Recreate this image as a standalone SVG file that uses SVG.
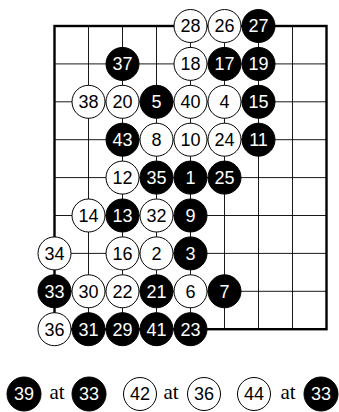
<svg xmlns="http://www.w3.org/2000/svg" width="339" height="412" viewBox="0 0 339 412">
<style>
.grid{stroke:#000;stroke-width:0.9;fill:none}
.edge{stroke:#000;stroke-width:2.4;fill:none}
.w{fill:#fff;stroke:#000;stroke-width:1}
.b{fill:#000;stroke:#000;stroke-width:1}
.n{font-family:"Liberation Sans",Arial,sans-serif;font-size:18px;text-anchor:middle}
.nw{fill:#000}
.nb{fill:#fff}
.at{font-family:"Liberation Serif","Times New Roman",serif;font-size:21px;text-anchor:middle;fill:#000}
</style>
<rect width="339" height="412" fill="#fff"/>
<g id="connectors">
<path class="grid" d="M88.5 26V329.2M122.5 26V329.2M156.5 26V329.2M190.5 26V329.2M224.5 26V329.2M258.5 26V329.2M292.5 26V329.2M54.5 63.9H326.5M54.5 101.8H326.5M54.5 139.7H326.5M54.5 177.6H326.5M54.5 215.5H326.5M54.5 253.4H326.5M54.5 291.3H326.5"/>
<rect class="edge" x="54.5" y="26" width="272" height="303.2"/>
</g>
<g id="s28"><circle class="w" cx="190.5" cy="26" r="16.5"/><text class="n nw" x="190.5" y="32.4">28</text></g>
<g id="s26"><circle class="w" cx="224.5" cy="26" r="16.5"/><text class="n nw" x="224.5" y="32.4">26</text></g>
<g id="s27"><circle class="b" cx="258.5" cy="26" r="16.5"/><text class="n nb" x="258.5" y="32.4">27</text></g>
<g id="s37"><circle class="b" cx="122.5" cy="63.9" r="16.5"/><text class="n nb" x="122.5" y="70.3">37</text></g>
<g id="s18"><circle class="w" cx="190.5" cy="63.9" r="16.5"/><text class="n nw" x="190.5" y="70.3">18</text></g>
<g id="s17"><circle class="b" cx="224.5" cy="63.9" r="16.5"/><text class="n nb" x="224.5" y="70.3">17</text></g>
<g id="s19"><circle class="b" cx="258.5" cy="63.9" r="16.5"/><text class="n nb" x="258.5" y="70.3">19</text></g>
<g id="s38"><circle class="w" cx="88.5" cy="101.8" r="16.5"/><text class="n nw" x="88.5" y="108.2">38</text></g>
<g id="s20"><circle class="w" cx="122.5" cy="101.8" r="16.5"/><text class="n nw" x="122.5" y="108.2">20</text></g>
<g id="s5"><circle class="b" cx="156.5" cy="101.8" r="16.5"/><text class="n nb" x="156.5" y="108.2">5</text></g>
<g id="s40"><circle class="w" cx="190.5" cy="101.8" r="16.5"/><text class="n nw" x="190.5" y="108.2">40</text></g>
<g id="s4"><circle class="w" cx="224.5" cy="101.8" r="16.5"/><text class="n nw" x="224.5" y="108.2">4</text></g>
<g id="s15"><circle class="b" cx="258.5" cy="101.8" r="16.5"/><text class="n nb" x="258.5" y="108.2">15</text></g>
<g id="s43"><circle class="b" cx="122.5" cy="139.7" r="16.5"/><text class="n nb" x="122.5" y="146.1">43</text></g>
<g id="s8"><circle class="w" cx="156.5" cy="139.7" r="16.5"/><text class="n nw" x="156.5" y="146.1">8</text></g>
<g id="s10"><circle class="w" cx="190.5" cy="139.7" r="16.5"/><text class="n nw" x="190.5" y="146.1">10</text></g>
<g id="s24"><circle class="w" cx="224.5" cy="139.7" r="16.5"/><text class="n nw" x="224.5" y="146.1">24</text></g>
<g id="s11"><circle class="b" cx="258.5" cy="139.7" r="16.5"/><text class="n nb" x="258.5" y="146.1">11</text></g>
<g id="s12"><circle class="w" cx="122.5" cy="177.6" r="16.5"/><text class="n nw" x="122.5" y="184">12</text></g>
<g id="s35"><circle class="b" cx="156.5" cy="177.6" r="16.5"/><text class="n nb" x="156.5" y="184">35</text></g>
<g id="s1"><circle class="b" cx="190.5" cy="177.6" r="16.5"/><text class="n nb" x="190.5" y="184">1</text></g>
<g id="s25"><circle class="b" cx="224.5" cy="177.6" r="16.5"/><text class="n nb" x="224.5" y="184">25</text></g>
<g id="s14"><circle class="w" cx="88.5" cy="215.5" r="16.5"/><text class="n nw" x="88.5" y="221.9">14</text></g>
<g id="s13"><circle class="b" cx="122.5" cy="215.5" r="16.5"/><text class="n nb" x="122.5" y="221.9">13</text></g>
<g id="s32"><circle class="w" cx="156.5" cy="215.5" r="16.5"/><text class="n nw" x="156.5" y="221.9">32</text></g>
<g id="s9"><circle class="b" cx="190.5" cy="215.5" r="16.5"/><text class="n nb" x="190.5" y="221.9">9</text></g>
<g id="s34"><circle class="w" cx="54.5" cy="253.4" r="16.5"/><text class="n nw" x="54.5" y="259.8">34</text></g>
<g id="s16"><circle class="w" cx="122.5" cy="253.4" r="16.5"/><text class="n nw" x="122.5" y="259.8">16</text></g>
<g id="s2"><circle class="w" cx="156.5" cy="253.4" r="16.5"/><text class="n nw" x="156.5" y="259.8">2</text></g>
<g id="s3"><circle class="b" cx="190.5" cy="253.4" r="16.5"/><text class="n nb" x="190.5" y="259.8">3</text></g>
<g id="s33"><circle class="b" cx="54.5" cy="291.3" r="16.5"/><text class="n nb" x="54.5" y="297.7">33</text></g>
<g id="s30"><circle class="w" cx="88.5" cy="291.3" r="16.5"/><text class="n nw" x="88.5" y="297.7">30</text></g>
<g id="s22"><circle class="w" cx="122.5" cy="291.3" r="16.5"/><text class="n nw" x="122.5" y="297.7">22</text></g>
<g id="s21"><circle class="b" cx="156.5" cy="291.3" r="16.5"/><text class="n nb" x="156.5" y="297.7">21</text></g>
<g id="s6"><circle class="w" cx="190.5" cy="291.3" r="16.5"/><text class="n nw" x="190.5" y="297.7">6</text></g>
<g id="s7"><circle class="b" cx="224.5" cy="291.3" r="16.5"/><text class="n nb" x="224.5" y="297.7">7</text></g>
<g id="s36"><circle class="w" cx="54.5" cy="329.2" r="16.5"/><text class="n nw" x="54.5" y="335.6">36</text></g>
<g id="s31"><circle class="b" cx="88.5" cy="329.2" r="16.5"/><text class="n nb" x="88.5" y="335.6">31</text></g>
<g id="s29"><circle class="b" cx="122.5" cy="329.2" r="16.5"/><text class="n nb" x="122.5" y="335.6">29</text></g>
<g id="s41"><circle class="b" cx="156.5" cy="329.2" r="16.5"/><text class="n nb" x="156.5" y="335.6">41</text></g>
<g id="s23"><circle class="b" cx="190.5" cy="329.2" r="16.5"/><text class="n nb" x="190.5" y="335.6">23</text></g>
<g id="legend">
<g id="l39"><circle class="b" cx="24" cy="394" r="17"/><text class="n nb" x="24" y="400.4">39</text></g>
<text class="at" x="57" y="399">at</text>
<g id="l33a"><circle class="b" cx="89" cy="394" r="17"/><text class="n nb" x="89" y="400.4">33</text></g>
<g id="l42"><circle class="w" cx="140" cy="394" r="16.5"/><text class="n nw" x="140" y="400.4">42</text></g>
<text class="at" x="171" y="399">at</text>
<g id="l36"><circle class="w" cx="204" cy="394" r="16.5"/><text class="n nw" x="204" y="400.4">36</text></g>
<g id="l44"><circle class="w" cx="254" cy="394" r="16.5"/><text class="n nw" x="254" y="400.4">44</text></g>
<text class="at" x="288" y="399">at</text>
<g id="l33b"><circle class="b" cx="321" cy="394" r="17"/><text class="n nb" x="321" y="400.4">33</text></g>
</g>
</svg>
